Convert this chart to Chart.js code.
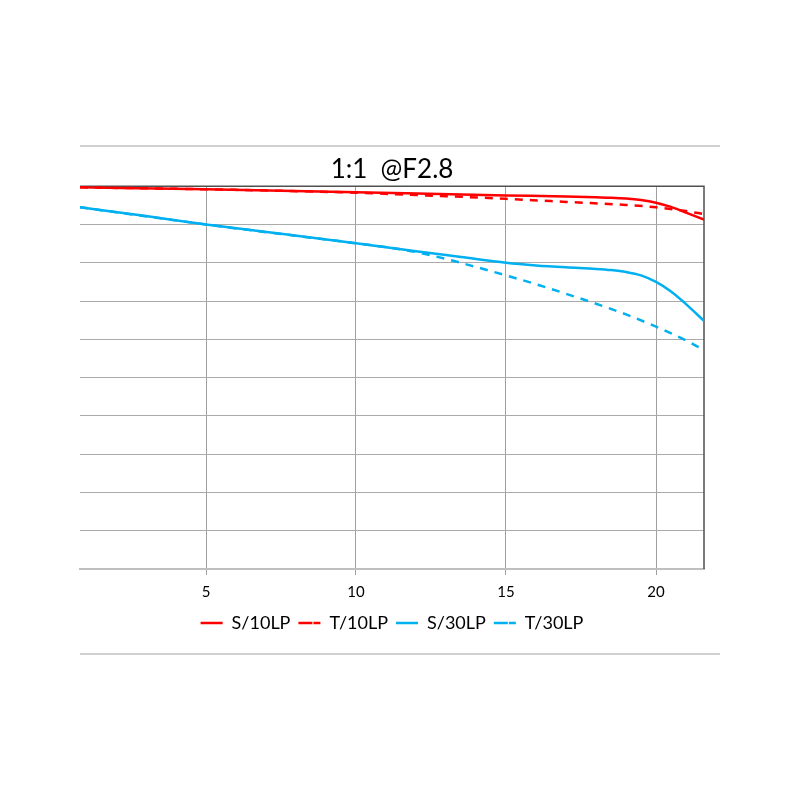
<!DOCTYPE html>
<html>
<head>
<meta charset="utf-8">
<script src="https://cdn.jsdelivr.net/npm/chart.js@4.4.1/dist/chart.umd.min.js"></script>
<style>
  body { margin: 0; background: #fff; }
  #wrap { position: relative; width: 800px; height: 800px; }
  .sep { position: absolute; left: 80px; width: 640px; height: 2px; background: #d0d0d0; }
  canvas { position: absolute; left: 0; top: 0; }
</style>
</head>
<body>
<div id="wrap">
  <div class="sep" style="top:145px"></div>
  <div class="sep" style="top:653px"></div>
  <canvas id="mtf" width="800" height="800"></canvas>
</div>
<script>
// image height (mm) and MTF values
var xS10 = [0.8, 5, 10, 15, 17, 18, 18.5, 19, 19.5, 20, 20.5, 21, 21.6];
var yS10 = [0.997, 0.992, 0.984, 0.976, 0.973, 0.971, 0.970, 0.968, 0.964, 0.957, 0.946, 0.931, 0.913];

var xT10 = [0.8, 5, 10, 12, 13, 15, 17, 19, 20, 21, 21.6];
var yT10 = [0.997, 0.992, 0.983, 0.977, 0.974, 0.967, 0.959, 0.951, 0.945, 0.935, 0.927];

var xS30 = [0.8, 3, 5, 7.5, 10, 12, 13.5, 15, 16, 17, 18, 18.5, 19, 19.5, 20, 20.5, 21, 21.6];
var yS30 = [0.945, 0.922, 0.900, 0.876, 0.851, 0.830, 0.815, 0.800, 0.793, 0.788, 0.784, 0.781, 0.776, 0.767, 0.750, 0.725, 0.692, 0.648];

var xT30 = [0.8, 5, 10, 11, 12, 13, 14, 15, 16, 17, 18, 19, 20, 21, 21.6];
var yT30 = [0.945, 0.900, 0.851, 0.841, 0.828, 0.810, 0.789, 0.767, 0.744, 0.719, 0.693, 0.665, 0.633, 0.597, 0.572];

var xTicks = [5, 10, 15, 20];
var seriesNames = ['S/10LP', 'T/10LP', 'S/30LP', 'T/30LP'];

var red = '#ff0000';
var blue = '#00b0f0';

function pairs(xs, ys) {
  return xs.map(function(x, i) { return { x: x, y: ys[i] }; });
}

function line(label, xs, ys, color, dashed) {
  return {
    label: label,
    data: pairs(xs, ys),
    borderColor: color,
    backgroundColor: color,
    borderWidth: 2.5,
    borderDash: dashed ? [8, 7] : [],
    pointRadius: 0,
    cubicInterpolationMode: 'monotone'
  };
}

// dark top and right edge of the plot area
var frame = {
  id: 'frame',
  beforeDatasetsDraw: function(chart) {
    var a = chart.chartArea, c = chart.ctx;
    c.save();
    c.strokeStyle = '#505050';
    c.lineWidth = 1.5;
    c.beginPath();
    c.moveTo(a.left, a.top);
    c.lineTo(a.right, a.top);
    c.lineTo(a.right, a.bottom);
    c.stroke();
    c.restore();
  }
};

var font = 'Lato, "Open Sans", sans-serif';

new Chart(document.getElementById('mtf').getContext('2d'), {
  type: 'line',
  data: {
    datasets: [
      line(seriesNames[0], xS10, yS10, red, false),
      line(seriesNames[1], xT10, yT10, red, true),
      line(seriesNames[2], xS30, yS30, blue, false),
      line(seriesNames[3], xT30, yT30, blue, true)
    ]
  },
  options: {
    responsive: false,
    animation: false,
    layout: { padding: { left: 80, right: 96, top: 154, bottom: 158 } },
    plugins: {
      title: {
        display: true,
        text: '1:1  @F2.8',
        color: '#000',
        font: { family: font, size: 26, weight: 'normal' },
        padding: { top: 0, bottom: 1 }
      },
      legend: {
        position: 'bottom',
        labels: {
          color: '#000',
          font: { family: font, size: 18 },
          boxWidth: 22,
          boxHeight: 0,
          padding: 8
        }
      },
      tooltip: { enabled: false }
    },
    scales: {
      x: {
        type: 'linear',
        min: 0.8,
        max: 21.6,
        afterBuildTicks: function(s) {
          s.ticks = xTicks.map(function(v) { return { value: v }; });
        },
        afterFit: function(s) { s.height -= 3; },
        grid: { color: '#a0a0a0', lineWidth: 1, tickLength: 6 },
        border: { display: true, color: '#bfbfbf', width: 2 },
        ticks: { color: '#000', font: { family: font, size: 15 }, padding: 8, maxRotation: 0 }
      },
      y: {
        min: 0,
        max: 1,
        ticks: { display: false, stepSize: 0.1 },
        grid: { color: '#aaaaaa', lineWidth: 1, drawTicks: false },
        border: { display: false }
      }
    }
  },
  plugins: [frame]
});
</script>
</body>
</html>
